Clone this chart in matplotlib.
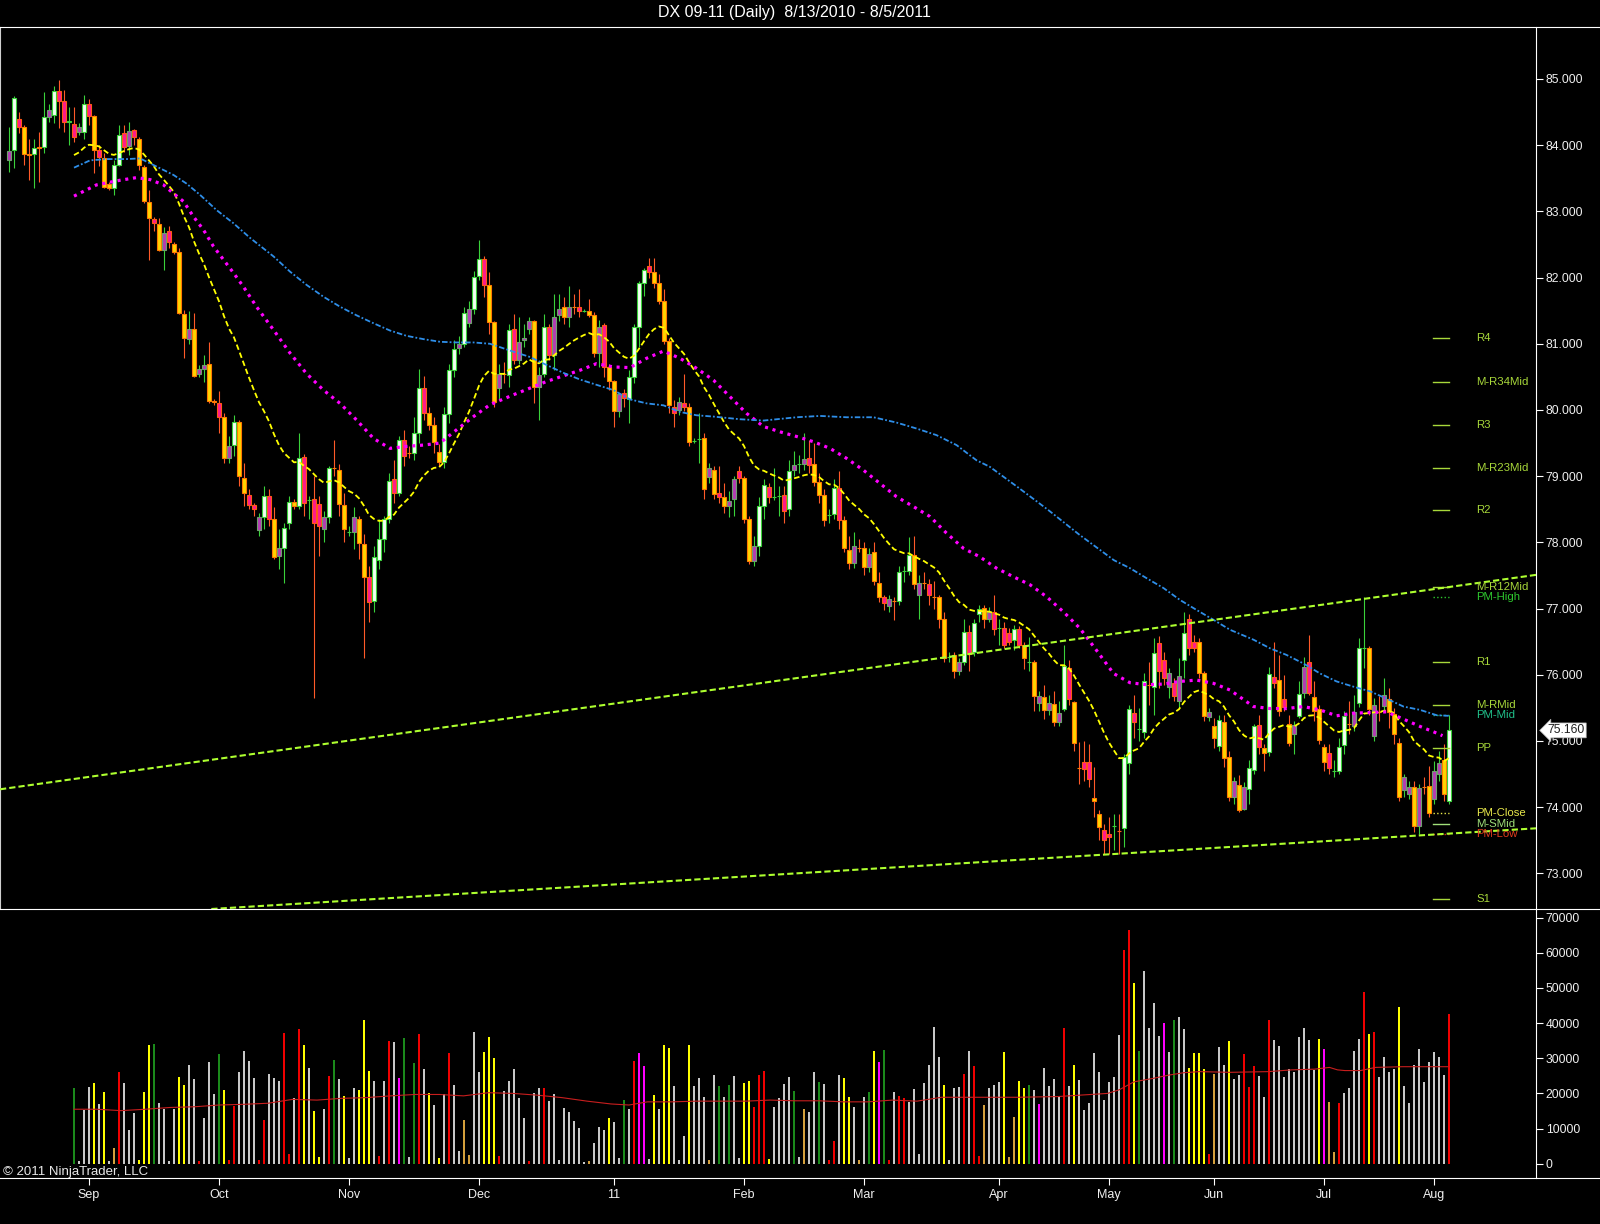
# Daily DX 09-11 chart in the NinjaTrader look: candles with moving averages,
# trend lines and monthly pivot levels on top, volume bars below.

import numpy as np
import pandas as pd
import matplotlib
matplotlib.use('Agg')
import matplotlib.pyplot as plt
import matplotlib.transforms as mtransforms
from matplotlib.lines import Line2D

plt.rcParams['font.family'] = ['Liberation Sans', 'DejaVu Sans']
plt.rcParams['lines.scale_dashes'] = False

TITLE = 'DX 09-11 (Daily)  8/13/2010 - 8/5/2011'
COPYRIGHT = '\u00a9 2011 NinjaTrader, LLC'

# Month labels and the bar index where each month starts.
MONTHS = ['Sep', 'Oct', 'Nov', 'Dec', '11', 'Feb', 'Mar', 'Apr', 'May', 'Jun', 'Jul', 'Aug']
MONTH_BARS = [16, 42, 68, 94, 121, 147, 171, 198, 220, 241, 263, 285]

OPENS = [
    83.78, 83.93, 84.39, 84.27, 83.86, 83.87, 83.96, 83.97, 84.42, 84.45,
    84.82, 84.66, 84.35, 84.32, 84.20, 84.20, 84.62, 84.44, 83.93, 83.80,
    83.41, 83.35, 83.70, 83.97, 83.98, 84.23, 84.10, 83.67, 83.14, 82.89,
    82.81, 82.42, 82.70, 82.51, 82.39, 81.45, 81.07, 81.23, 80.55, 80.62,
    80.69, 80.13, 80.10, 79.90, 79.27, 79.47, 79.82, 78.97, 78.72, 78.56,
    78.19, 78.38, 78.70, 78.36, 77.79, 77.91, 78.29, 78.61, 78.55, 79.29,
    78.64, 78.66, 78.58, 78.20, 78.38, 79.13, 79.10, 78.56, 78.15, 78.16,
    78.35, 77.98, 77.47, 77.11, 77.73, 78.05, 78.36, 78.95, 78.75, 79.54,
    79.35, 79.35, 79.65, 80.33, 79.95, 79.77, 79.37, 79.21, 79.94, 80.61,
    80.93, 80.99, 81.31, 81.52, 82.02, 82.28, 81.89, 81.33, 80.33, 80.54,
    80.53, 81.22, 80.76, 81.05, 81.22, 81.34, 80.35, 80.54, 81.25, 80.83,
    81.44, 81.55, 81.40, 81.56, 81.55, 81.50, 81.50, 81.44, 80.86, 81.28,
    80.65, 80.44, 79.98, 80.25, 80.16, 80.50, 81.25, 81.92, 82.09, 82.09,
    81.92, 81.65, 81.04, 80.05, 80.00, 80.11, 80.05, 79.53, 79.56, 79.58,
    78.98, 79.10, 78.74, 78.68, 78.55, 78.65, 79.08, 78.97, 78.36, 77.72,
    77.94, 78.55, 78.84, 78.69, 78.70, 78.72, 78.50, 79.09, 79.18, 79.18,
    79.27, 79.19, 78.91, 78.71, 78.41, 78.43, 78.82, 78.34, 77.89, 77.69,
    77.92, 77.91, 77.63, 77.86, 77.39, 77.17, 77.04, 77.12, 77.11, 77.57,
    77.57, 77.81, 77.21, 77.39, 77.37, 77.18, 77.17, 76.84, 76.27, 76.30,
    76.05, 76.20, 76.64, 76.35, 76.92, 77.01, 76.84, 76.95, 76.70, 76.70,
    76.50, 76.52, 76.69, 76.45, 76.20, 76.20, 75.68, 75.67, 75.47, 75.56,
    75.28, 75.48, 76.10, 75.59, 74.59, 74.69, 74.69, 74.14, 73.90, 73.65,
    73.60, 73.72, 73.64, 73.68, 74.67, 75.42, 75.18, 75.14, 75.85, 75.81,
    76.48, 76.22, 75.81, 75.88, 75.61, 76.23, 76.84, 76.50, 76.50, 76.02,
    75.44, 75.23, 74.93, 75.28, 74.76, 74.16, 74.33, 73.98, 74.27, 74.56,
    75.24, 74.89, 74.84, 75.97, 75.92, 75.63, 75.26, 75.11, 75.37, 75.72,
    76.20, 75.67, 75.49, 74.91, 74.82, 74.55, 74.55, 74.94, 75.26, 75.23,
    75.57, 76.41, 76.40, 75.07, 75.44, 75.53, 75.64, 75.41, 74.97, 74.26,
    74.20, 74.31, 73.71, 74.30, 74.32, 74.13, 74.50, 74.72, 74.10]

HIGHS = [
    84.28, 84.74, 84.50, 84.30, 84.10, 84.10, 84.20, 84.80, 84.62, 84.89,
    84.99, 84.83, 84.58, 84.58, 84.33, 84.76, 84.69, 84.45, 84.00, 83.88,
    83.45, 83.78, 84.30, 84.30, 84.35, 84.25, 84.12, 83.70, 83.33, 82.92,
    82.90, 82.77, 82.78, 82.53, 82.45, 81.51, 81.50, 81.46, 80.68, 80.83,
    81.03, 80.16, 80.28, 79.95, 79.60, 79.92, 79.85, 79.20, 78.80, 78.60,
    78.45, 78.85, 78.80, 78.53, 78.20, 78.30, 78.70, 78.65, 79.65, 79.33,
    78.70, 79.00, 78.70, 78.48, 79.15, 79.55, 79.18, 78.75, 78.25, 78.53,
    78.40, 78.12, 77.65, 77.95, 78.35, 78.40, 79.05, 79.25, 79.60, 79.70,
    79.45, 79.90, 80.62, 80.52, 80.05, 79.90, 79.48, 80.05, 80.70, 81.05,
    81.12, 81.55, 81.65, 82.10, 82.57, 82.32, 82.08, 81.35, 80.70, 80.72,
    81.30, 81.45, 81.40, 81.30, 81.40, 81.36, 80.65, 81.45, 81.30, 81.75,
    81.75, 81.70, 81.87, 81.75, 81.82, 81.52, 81.68, 81.48, 81.36, 81.32,
    80.70, 80.46, 80.25, 80.32, 80.60, 81.30, 81.95, 82.15, 82.30, 82.30,
    82.05, 81.82, 81.08, 80.15, 80.20, 80.55, 80.10, 79.58, 79.95, 79.65,
    79.20, 79.15, 79.15, 78.90, 78.78, 79.00, 79.15, 79.00, 78.40, 78.10,
    78.68, 78.95, 78.90, 79.12, 78.85, 78.85, 79.25, 79.38, 79.32, 79.65,
    79.55, 79.50, 79.05, 78.80, 78.50, 78.95, 79.08, 78.40, 78.10, 78.15,
    78.05, 78.00, 77.92, 78.00, 77.55, 77.20, 77.20, 77.18, 77.65, 77.65,
    78.08, 78.10, 77.50, 77.55, 77.45, 77.42, 77.20, 76.95, 76.35, 76.35,
    76.25, 76.85, 76.75, 76.85, 77.05, 77.05, 77.03, 77.20, 76.85, 76.80,
    76.70, 76.75, 76.74, 76.50, 76.57, 76.22, 75.75, 75.85, 75.70, 75.75,
    75.60, 76.45, 76.22, 75.60, 74.98, 75.00, 74.95, 74.60, 73.95, 73.75,
    73.85, 73.90, 73.90, 74.80, 75.55, 75.70, 75.50, 76.02, 76.20, 76.55,
    76.58, 76.35, 76.10, 75.95, 76.25, 76.95, 76.92, 76.60, 76.55, 76.05,
    75.50, 75.35, 75.40, 75.40, 74.85, 74.45, 74.48, 74.38, 74.72, 75.25,
    75.40, 74.95, 76.12, 76.50, 76.30, 76.00, 75.40, 75.30, 75.90, 76.27,
    76.60, 75.90, 75.55, 74.95, 74.95, 74.72, 75.05, 75.45, 75.60, 75.70,
    76.55, 77.18, 76.43, 75.65, 75.68, 75.95, 75.80, 75.50, 75.05, 74.50,
    74.40, 74.40, 74.35, 74.45, 74.62, 74.70, 74.85, 74.95, 75.40]

LOWS = [
    83.60, 83.65, 84.18, 83.70, 83.47, 83.35, 83.45, 83.88, 84.35, 84.33,
    84.26, 84.20, 84.00, 84.05, 84.15, 84.10, 84.30, 83.58, 83.68, 83.35,
    83.32, 83.25, 83.68, 83.90, 83.85, 84.00, 83.62, 83.12, 82.27, 82.70,
    82.40, 82.12, 82.45, 82.35, 81.45, 80.78, 81.00, 80.50, 80.50, 80.43,
    80.10, 80.08, 79.65, 79.20, 79.20, 79.30, 78.85, 78.55, 78.50, 78.40,
    78.10, 78.20, 78.25, 77.75, 77.60, 77.38, 78.20, 78.50, 78.50, 78.40,
    78.35, 75.65, 77.80, 78.00, 78.30, 79.00, 78.40, 78.00, 78.10, 77.90,
    77.75, 76.25, 76.80, 76.95, 77.60, 77.85, 78.30, 78.60, 78.70, 79.15,
    79.28, 79.25, 79.50, 79.85, 79.70, 79.35, 79.15, 79.12, 79.80, 80.50,
    80.85, 80.95, 81.25, 81.45, 81.97, 81.70, 81.15, 80.05, 80.15, 80.40,
    80.35, 80.70, 80.70, 80.95, 81.15, 80.10, 79.85, 80.50, 80.75, 80.60,
    81.35, 81.30, 81.25, 81.45, 81.40, 81.48, 81.40, 80.80, 80.65, 80.50,
    80.30, 79.75, 79.90, 80.05, 79.80, 80.40, 80.95, 81.72, 82.00, 81.85,
    81.60, 81.00, 79.95, 79.75, 79.92, 79.98, 79.45, 79.50, 79.20, 78.65,
    78.90, 78.65, 78.60, 78.45, 78.38, 78.40, 78.90, 78.30, 77.68, 77.65,
    77.80, 78.35, 78.60, 78.64, 78.40, 78.30, 78.40, 79.00, 79.05, 79.10,
    79.05, 78.85, 78.60, 78.25, 78.30, 78.35, 78.20, 77.85, 77.60, 77.62,
    77.85, 77.50, 77.55, 77.35, 77.10, 76.98, 76.95, 76.82, 77.05, 77.40,
    77.50, 77.30, 76.85, 77.30, 77.05, 77.00, 76.70, 76.20, 76.20, 75.95,
    76.00, 76.15, 76.05, 76.28, 76.80, 76.70, 76.80, 76.60, 76.45, 76.40,
    76.45, 76.38, 76.40, 76.08, 76.05, 75.46, 75.45, 75.33, 75.40, 75.23,
    75.22, 75.45, 75.55, 74.85, 74.35, 74.40, 74.30, 73.85, 73.50, 73.30,
    73.30, 73.35, 73.30, 73.40, 74.50, 75.05, 75.00, 75.05, 75.55, 75.40,
    75.80, 75.85, 75.65, 75.60, 75.50, 75.95, 76.30, 76.35, 75.95, 75.30,
    75.30, 74.90, 74.85, 74.60, 74.10, 74.05, 73.92, 73.95, 74.05, 74.50,
    74.80, 74.55, 74.78, 75.80, 75.38, 75.45, 74.92, 74.80, 75.35, 75.65,
    75.70, 75.30, 74.95, 74.55, 74.50, 74.45, 74.50, 74.80, 75.10, 75.15,
    75.52, 76.10, 75.40, 75.00, 75.30, 75.45, 75.20, 74.95, 74.10, 74.15,
    74.12, 73.63, 73.60, 74.20, 73.85, 74.05, 74.40, 74.10, 74.05]

CLOSES = [
    83.91, 84.71, 84.27, 83.87, 83.85, 83.95, 83.97, 84.42, 84.53, 84.82,
    84.66, 84.35, 84.36, 84.13, 84.28, 84.62, 84.44, 83.93, 83.82, 83.37,
    83.35, 83.70, 84.16, 84.18, 84.22, 84.13, 83.70, 83.15, 82.90, 82.83,
    82.42, 82.68, 82.53, 82.39, 81.46, 81.08, 81.23, 80.51, 80.62, 80.68,
    80.13, 80.12, 79.90, 79.27, 79.46, 79.82, 79.00, 78.74, 78.56, 78.50,
    78.39, 78.70, 78.36, 77.78, 77.91, 78.22, 78.61, 78.55, 79.27, 78.59,
    78.64, 78.29, 78.24, 78.38, 79.13, 79.12, 78.58, 78.20, 78.16, 78.39,
    77.99, 77.47, 77.10, 77.78, 78.05, 78.36, 78.93, 78.74, 79.54, 79.30,
    79.35, 79.65, 80.33, 79.95, 79.77, 79.52, 79.21, 79.94, 80.61, 80.92,
    80.99, 81.46, 81.52, 82.01, 82.28, 81.89, 81.33, 80.12, 80.55, 80.54,
    81.21, 80.76, 81.02, 81.09, 81.35, 80.34, 80.53, 81.25, 80.83, 81.40,
    81.52, 81.40, 81.55, 81.56, 81.50, 81.50, 81.44, 80.86, 81.26, 80.65,
    80.44, 79.98, 80.24, 80.18, 80.50, 81.25, 81.92, 82.12, 82.18, 81.92,
    81.65, 81.04, 80.07, 79.95, 80.12, 80.05, 79.52, 79.53, 79.56, 78.80,
    79.12, 78.73, 78.68, 78.55, 78.63, 78.96, 78.97, 78.36, 77.72, 77.94,
    78.55, 78.86, 78.69, 78.69, 78.70, 78.48, 79.08, 79.17, 79.18, 79.26,
    79.17, 78.91, 78.71, 78.34, 78.41, 78.82, 78.34, 77.91, 77.69, 77.94,
    77.92, 77.63, 77.83, 77.41, 77.17, 77.08, 77.14, 77.12, 77.56, 77.57,
    77.81, 77.37, 77.39, 77.39, 77.20, 77.18, 76.84, 76.25, 76.27, 76.05,
    76.20, 76.64, 76.32, 76.78, 76.99, 76.84, 76.95, 76.69, 76.70, 76.45,
    76.63, 76.69, 76.45, 76.25, 76.20, 75.68, 75.57, 75.47, 75.58, 75.28,
    75.43, 76.13, 75.64, 74.97, 74.59, 74.57, 74.42, 74.10, 73.70, 73.50,
    73.55, 73.72, 73.64, 74.76, 75.48, 75.29, 75.18, 75.91, 75.85, 76.33,
    76.05, 75.95, 76.02, 75.68, 75.98, 76.63, 76.41, 76.41, 76.02, 75.37,
    75.36, 75.04, 75.32, 74.74, 74.16, 74.39, 73.95, 74.30, 74.59, 75.23,
    74.91, 74.82, 76.01, 75.88, 75.46, 75.51, 74.97, 75.24, 75.71, 76.11,
    75.73, 75.46, 75.01, 74.69, 74.59, 74.55, 74.91, 75.37, 75.26, 75.44,
    76.41, 76.41, 75.49, 75.54, 75.44, 75.69, 75.44, 75.11, 74.16, 74.46,
    74.30, 73.72, 74.29, 74.30, 73.91, 74.54, 74.66, 74.20, 75.16]

# Candle paint: U white up, D gold down, P pink (orange edge), M magenta (green edge).
CANDLE_CODES = ('MUPDDUDUMU' 'PPUPMUPDPD' 'DUUPMPDDDP' 'DMPDDDMDMM' 'DDPDMUDDPP'
                'MUPDMUUDUP' 'UPPMUDDDUM' 'DDPUUUUPUP' 'DUUPDDDUUU' 'MUMUUPDDMD'
                'UPMMMDMUPM' 'MDMDPUDDMP' 'DDMPUUUUPD' 'DDDPMPDUUD' 'MDPDMMPDDM'
                'UUPUUPUMUM' 'PDDDUUPDDM' 'DDMDDPMDUU' 'UDMDPDDDUD' 'MUPUUDMPUP'
                'PUPDUDMDMD' 'MUPDDPPDDP' 'PUPUUPUUDU' 'PPMPMUPPDD' 'MDUDDMDMUU'
                'PDUPDPDMUM' 'PDDDPUUUDM' 'UUDMDMDDDM' 'MDMDDMMDU')

# Volume in thousands of contracts, first value belongs to bar VOL_START.
VOL_START = 13
VOLUME = [
    21.4, 0.8, 15.3, 21.9, 23.0, 17.0, 20.5, 0.8, 4.5, 26.0,
    23.0, 9.6, 14.5, 1.0, 20.5, 33.8, 34.0, 17.4, 15.7, 0.8,
    15.5, 24.8, 22.4, 28.1, 24.1, 0.8, 13.1, 29.0, 19.8, 31.2,
    21.0, 1.0, 16.4, 26.2, 32.2, 29.3, 24.5, 1.0, 12.4, 25.5,
    24.5, 23.6, 37.3, 2.9, 18.8, 38.3, 33.8, 27.1, 15.0, 2.0,
    15.6, 24.9, 29.5, 24.1, 19.3, 1.5, 21.4, 21.0, 40.9, 26.5,
    23.5, 2.3, 23.5, 35.0, 34.7, 24.5, 35.9, 2.0, 28.7, 36.9,
    26.9, 20.0, 16.7, 1.5, 19.7, 31.6, 22.4, 3.7, 12.4, 2.5,
    37.6, 26.2, 31.9, 36.1, 30.2, 2.3, 20.7, 23.5, 26.9, 18.6,
    13.1, 0.8, 20.2, 21.6, 21.4, 17.8, 19.7, 1.0, 15.9, 14.6,
    12.1, 10.2, 0.5, 0.8, 6.0, 10.5, 9.6, 12.9, 12.0, 1.7,
    18.1, 15.7, 29.2, 31.6, 27.8, 1.3, 19.5, 15.7, 33.8, 33.0,
    22.1, 1.0, 8.0, 33.8, 22.2, 24.5, 18.9, 1.0, 25.2, 22.1,
    19.1, 22.4, 24.9, 1.7, 23.0, 23.6, 16.2, 25.2, 26.5, 1.3,
    16.2, 18.6, 22.7, 24.8, 20.8, 2.0, 15.6, 14.6, 26.2, 23.3,
    22.7, 1.0, 6.5, 25.2, 24.5, 19.1, 16.2, 1.0, 19.1, 20.5,
    32.2, 29.0, 32.3, 1.0, 20.5, 19.3, 18.6, 17.6, 21.2, 2.7,
    22.9, 28.1, 39.0, 30.4, 22.4, 1.0, 21.4, 21.9, 25.5, 32.2,
    27.8, 2.3, 16.7, 21.6, 22.4, 23.3, 31.8, 2.0, 13.3, 23.6,
    21.6, 22.3, 20.9, 17.0, 27.3, 22.1, 24.0, 18.9, 38.7, 22.1,
    28.1, 23.8, 15.3, 17.4, 31.5, 26.2, 18.2, 23.3, 24.7, 36.6,
    60.7, 66.6, 51.4, 32.1, 54.9, 38.7, 45.6, 36.3, 40.1, 31.8,
    40.8, 41.7, 38.3, 27.1, 31.4, 31.4, 26.9, 2.9, 25.6, 33.2,
    28.1, 34.8, 24.1, 25.2, 31.2, 21.7, 27.7, 24.9, 18.9, 40.9,
    35.1, 33.5, 24.7, 26.9, 26.2, 36.1, 38.7, 35.1, 26.7, 35.6,
    32.5, 17.6, 3.4, 17.4, 20.0, 21.5, 32.1, 35.6, 48.8, 36.8,
    37.4, 24.7, 30.4, 26.2, 26.9, 44.5, 22.1, 17.4, 28.1, 32.5,
    23.3, 28.8, 31.8, 30.4, 25.2, 42.5]

VOL_CODES = ('gwwwywywtr' 'wwwyyygwww' 'wyywwrwwwg' 'yrrwwwwrrw' 'wwrrwrywyy'
             'wrgwywwyyy' 'wrwrwmgwgr' 'wywywrwwtt' 'wwyyyrwwww' 'wrwwrwwwww'
             'wwwtwwwyww' 'gwrmmwywyy' 'wwwywwwtwg' 'wgwwyyrrry' 'wwwwgwtwwg'
             'wrrwyywtwg' 'ymgrwrrwww' 'wwwwywwwrw' 'rrtwwwytty' 'ygwmwwwwrw'
             'ywwwwwwwww' 'rrygwwwwmw' 'gwwyyyyrtw' 'wywwrrrwwr' 'wwwwwwwwwy'
             'mttrwwwwry' 'rwwwwywwww' 'wwwwwr')

# Volume average (thousands).
VMA_X = [13, 17.5, 22.4, 27.3, 32.2, 37.1, 42, 46.9, 51.8, 56.7, 61.6, 66.5, 71.4,
         76.3, 81.2, 86.1, 90.9, 95.9, 100.8, 105.7, 110.6, 115.6, 120.4, 124,
         127.7, 132.6, 137.5, 142.4, 147.3, 152.2, 157.1, 162, 166.9, 171.8, 176.7,
         181.6, 186.5, 191.3, 196.2, 201.7, 209.7, 219.7, 222, 225, 228.9, 231.9,
         235, 238.1, 244.2, 251.9, 256.5, 261.1, 264.1, 265.7, 267.2, 270.3, 273.3,
         278.7, 288]
VMA = [15.5, 15.5, 15.1, 15.5, 16.0, 16.2, 16.7, 16.9, 17.2, 18.3, 18.1, 18.6, 18.8,
       19.3, 19.7, 19.7, 19.3, 20.2, 20.0, 19.5, 18.8, 17.8, 17.0, 16.7, 17.6, 17.6,
       17.8, 17.8, 17.8, 18.1, 17.9, 17.9, 17.6, 17.6, 18.1, 17.8, 18.9, 18.9, 18.9,
       18.9, 19.1, 20.0, 21.0, 23.3, 24.3, 25.2, 25.9, 26.2, 26.0, 26.2, 26.7, 26.9,
       27.4, 26.7, 26.5, 26.5, 27.4, 27.6, 27.6]

# Slow averages (bar index, price).
MAG_X = [13, 17.5, 22.2, 25.5, 28.2, 30.9, 32.9, 34.9, 36.9, 38.9, 40.9, 42.9, 44.9,
         46.9, 49.5, 52.9, 56.2, 59.5, 62.9, 66.2, 69.5, 72.9, 76.2, 79.5, 82.9, 86.2,
         89.5, 92.9, 96.2, 100.9, 107.5, 114.2, 117.5, 120.9, 124.2, 127.5, 130.9,
         134.2, 137.5, 140.9, 144.2, 147.5, 150.9, 154.2, 157.5, 160.9, 164.2, 167.5,
         170.9, 174.2, 177.5, 180.9, 184.2, 187.5, 190.9, 194.2, 197.5, 200.9, 204.2,
         207.5, 210.9, 214.2, 217.5, 220.9, 224.2, 227.5, 230.9, 234.2, 237.5, 240.9,
         244.2, 248.9, 252.2, 255.5, 258.9, 262.2, 265.5, 268.9, 272.2, 275.5, 278.9,
         282.2, 285.5, 286.7]
MAG = [83.23, 83.40, 83.47, 83.51, 83.48, 83.40, 83.27, 83.15, 82.92, 82.72, 82.47,
       82.27, 82.07, 81.86, 81.56, 81.21, 80.86, 80.55, 80.30, 80.10, 79.85, 79.57,
       79.42, 79.45, 79.47, 79.50, 79.70, 79.90, 80.08, 80.23, 80.43, 80.60, 80.70,
       80.65, 80.64, 80.78, 80.89, 80.78, 80.63, 80.45, 80.20, 79.95, 79.75, 79.67,
       79.60, 79.52, 79.42, 79.27, 79.09, 78.89, 78.69, 78.54, 78.39, 78.14, 77.91,
       77.78, 77.61, 77.48, 77.36, 77.18, 76.95, 76.70, 76.37, 76.02, 75.88, 75.85,
       75.86, 75.90, 75.92, 75.87, 75.77, 75.52, 75.49, 75.49, 75.52, 75.47, 75.38,
       75.42, 75.43, 75.44, 75.33, 75.22, 75.12, 75.08]

BLUE_X = [13, 16.2, 19.5, 23.5, 26.2, 28.9, 32.9, 35.5, 38.2, 41.5, 44.9, 48.2, 52.9,
          56.2, 59.5, 62.9, 66.2, 69.5, 72.9, 76.2, 79.5, 82.9, 86.2, 89.5, 92.9,
          96.2, 100.9, 104.2, 107.5, 110.9, 114.2, 117.5, 120.9, 124.2, 127.5, 130.9,
          134.2, 137.5, 140.9, 146.2, 150.9, 157.5, 162.2, 167.5, 172.9, 177.5, 181.5,
          185.5, 189.5, 193.5, 196.2, 202, 208, 214, 221, 224.2, 227.5, 230.9, 234.2,
          237.5, 240.9, 244.2, 248.9, 252.2, 255.5, 258.9, 262.2, 265.5, 268.9, 272.2,
          275.5, 278.9, 282.2, 285.5, 287.9]
BLUE = [83.66, 83.77, 83.79, 83.79, 83.80, 83.70, 83.55, 83.42, 83.25, 83.02, 82.82,
        82.60, 82.32, 82.09, 81.89, 81.71, 81.56, 81.43, 81.31, 81.20, 81.12, 81.07,
        81.03, 81.02, 81.02, 81.00, 80.88, 80.80, 80.68, 80.56, 80.46, 80.38, 80.30,
        80.16, 80.10, 80.07, 79.97, 79.92, 79.90, 79.86, 79.84, 79.89, 79.91, 79.89,
        79.89, 79.81, 79.72, 79.62, 79.47, 79.24, 79.14, 78.82, 78.48, 78.12, 77.73,
        77.61, 77.46, 77.31, 77.13, 76.98, 76.83, 76.68, 76.53, 76.40, 76.30, 76.17,
        76.02, 75.90, 75.82, 75.75, 75.64, 75.52, 75.47, 75.39, 75.38]

# Fast average: 20 bar EMA of the closes, started at the value shown on bar 13.
EMA_START = 13
EMA_SEED = 83.85
EMA_SPAN = 20

# Two points on each trend line (bar index, price).
UPPER_TREND = [(-1.8, 74.27), (292.2, 77.37)]
LOWER_TREND = [(242.2, 73.39), (292.2, 73.62)]

# Monthly pivot levels drawn at the right edge.
PIV_NAMES = ['R4', 'M-R34Mid', 'R3', 'M-R23Mid', 'R2', 'M-R12Mid', 'PM-High', 'R1',
             'M-RMid', 'PM-Mid', 'PP', 'PM-Close', 'M-SMid', 'PM-Low', 'S1']
PIV_VALUES = [81.08, 80.43, 79.78, 79.13, 78.49, 77.33, 77.18, 76.19,
              75.54, 75.39, 74.89, 73.91, 73.74, 73.59, 72.61]


def plot_chart(plot_file):
    o, h, l, c = (np.array(a) for a in (OPENS, HIGHS, LOWS, CLOSES))
    x = np.arange(len(c))

    W, H = 1600.0, 1224.0
    fig = plt.figure(figsize=(W/100, H/100), dpi=100, facecolor='black')
    ax = fig.add_axes([0, 1 - 909/H, 1536/W, (909 - 27)/H], facecolor='black')
    axv = fig.add_axes([0, 1 - 1178/H, 1536/W, (1178 - 909)/H], facecolor='black',
                       sharex=ax)

    for a in (ax, axv):
        for side in ('top', 'bottom', 'left'):
            a.spines[side].set_visible(False)
        a.spines['right'].set_color('white')
        a.spines['right'].set_linewidth(0.8)
        a.yaxis.tick_right()
    ax.spines['left'].set_visible(True)
    ax.spines['left'].set_color('#d0d0d0')
    ax.spines['left'].set_linewidth(0.8)

    # Panel separators run over the whole width, through the axis strip.
    for y in (27, 909, 1178):
        fig.add_artist(Line2D([0, 1], [1 - y/H, 1 - y/H], color='white', lw=0.8,
                              transform=fig.transFigure))

    ax.set_xlim(-1.8, 305.4)
    ax.set_ylim(72.462, 85.785)
    axv.set_ylim(-4069, 72475)

    # Candles: wicks first, bodies on top.
    face = {'U': '#f4fff4', 'D': '#ffd400', 'P': '#ff1a8c', 'M': '#b43cb4'}
    edge = {'U': '#3ad23a', 'D': '#ff7a00', 'P': '#ff5a14', 'M': '#6ea06e'}
    wick = {'U': '#3ad23a', 'D': '#ff5a28', 'P': '#ff5a28', 'M': '#3ad23a'}
    codes = list(CANDLE_CODES)
    ax.vlines(x, l, h, colors=[wick[k] for k in codes], lw=0.8, zorder=2)
    ax.bar(x, np.abs(c - o), bottom=np.minimum(o, c), width=0.62,
           color=[face[k] for k in codes], edgecolor=[edge[k] for k in codes],
           linewidth=0.8, zorder=3)

    # Moving averages.
    ema = pd.Series(np.r_[EMA_SEED, c[EMA_START + 1:]]).ewm(span=EMA_SPAN, adjust=False).mean()
    ax.plot(np.arange(EMA_START, len(c)), ema, color='#ffff00', lw=1.3,
            dashes=(4.0, 2.2), zorder=5)
    ax.plot(MAG_X, MAG, color='#ff00ff', lw=2.3, dashes=(2.2, 3.4),
            dash_capstyle='butt', zorder=5)
    ax.plot(BLUE_X, BLUE, color='#2e8ee8', lw=1.3, dashes=(4.0, 1.5, 1.3, 1.5), zorder=5)

    # Trend lines.
    for p0, p1 in (UPPER_TREND, LOWER_TREND):
        ax.axline(p0, p1, color='#adff2f', lw=1.5, dashes=(4.5, 2.2), zorder=6)

    # Pivot levels: short marks next to the last bars, names to the right.
    green_yellow = '#a8d83a'
    piv_color = {'PM-High': '#2ec82e', 'PM-Mid': '#20c08a', 'PM-Close': '#e8e84a',
                 'M-SMid': '#a0e07a', 'PM-Low': '#e03c1e'}
    piv_dotted = ('PM-High', 'PM-Mid', 'PM-Close', 'PM-Low')
    for name, val in zip(PIV_NAMES, PIV_VALUES):
        col = piv_color.get(name, green_yellow)
        ls = ':' if name in piv_dotted else '-'
        ax.plot([284.8, 288.0], [val, val], color=col, lw=1.0, ls=ls, zorder=4)
        ax.text(293.4, val, name, color=col, fontsize=8.2, ha='left', va='center',
                zorder=7)

    # Price axis.
    ax.set_yticks(np.arange(73, 86))
    ax.set_yticklabels(['%.3f' % v for v in np.arange(73, 86)])
    ax.tick_params(axis='y', colors='white', labelcolor='#f0f0f0', direction='out',
                   length=5, width=0.8, labelsize=8.7, pad=2)
    ax.tick_params(axis='x', bottom=False, labelbottom=False)

    # Last price tag on the axis.
    blend = mtransforms.blended_transform_factory(ax.transAxes, ax.transData)
    ax.text(1.0075, c[-1], '%.3f' % c[-1], transform=blend, ha='left', va='center',
            fontsize=8.7, color='#202020', clip_on=False, zorder=10,
            bbox=dict(boxstyle='larrow,pad=0.12', fc='white', ec='#b0b0b0', lw=0.5))

    # Volume panel.
    vcol = {'r': '#f00000', 'y': '#ffff00', 'w': '#c8c8c8', 'g': '#1b8a1b',
            'm': '#ff00ff', 't': '#d4a03c'}
    vx = np.arange(VOL_START, VOL_START + len(VOLUME))
    axv.bar(vx, np.array(VOLUME)*1000, width=0.5,
            color=[vcol[k] for k in VOL_CODES], linewidth=0)
    axv.plot(VMA_X, np.array(VMA)*1000, color='#c81e1e', lw=0.8)

    axv.set_yticks(range(0, 70001, 10000))
    axv.set_yticklabels([str(v) for v in range(0, 70001, 10000)])
    axv.tick_params(axis='y', colors='white', labelcolor='#f0f0f0', direction='out',
                    length=5, width=0.8, labelsize=8.7, pad=2)
    axv.set_xticks(MONTH_BARS)
    axv.set_xticklabels(MONTHS)
    axv.tick_params(axis='x', colors='white', labelcolor='#f0f0f0', direction='out',
                    length=5, width=0.8, labelsize=9, pad=3)

    fig.text(794/W, 1 - 12/H, TITLE, ha='center', va='center', color='white',
             fontsize=11.5)
    fig.text(3/W, 1 - 1172/H, COPYRIGHT, ha='left', va='center', color='#e8e8e8',
             fontsize=9.5)

    fig.savefig(plot_file, dpi=100, facecolor='black')


if __name__ == '__main__':
    plot_chart('out.png')
